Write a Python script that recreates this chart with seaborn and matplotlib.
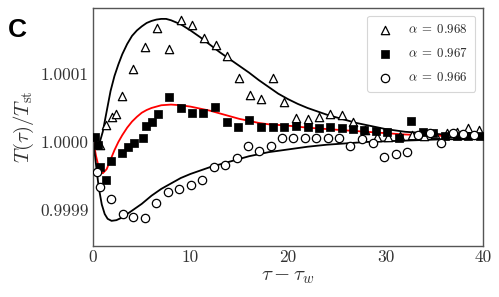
import numpy as np
import pandas as pd
import matplotlib
matplotlib.use("Agg")
import matplotlib.pyplot as plt
import seaborn as sns

# ---- data (deviations from 1 in units of 1e-4) ----
tri_tau = [0.7, 1.3, 1.95, 2.4, 3.0, 4.1, 5.3, 6.6, 7.8, 9.0, 10.2, 11.4, 12.6, 13.7, 15.0,
           16.1, 17.2, 18.5, 19.6, 20.8, 22.1, 23.2, 24.3, 25.5, 26.7, 27.9, 29.1, 30.3,
           31.5, 32.7, 33.9, 35.1, 36.3, 37.3, 38.5, 39.6]
tri_dev = [-0.04, 0.25, 0.37, 0.41, 0.68, 1.07, 1.40, 1.68, 1.37, 1.79, 1.72, 1.53, 1.43, 1.26, 0.94,
           0.69, 0.63, 0.94, 0.59, 0.35, 0.34, 0.37, 0.41, 0.40, 0.29, 0.18, 0.07, 0.07,
           0.09, 0.10, 0.09, 0.11, 0.13, 0.15, 0.21, 0.18]

sq_tau = [0.2, 0.5, 0.7, 1.3, 1.85, 3.0, 3.6, 4.2, 5.1, 5.4, 6.05, 6.7, 7.8, 9.0, 10.2, 11.3,
          12.5, 13.7, 14.9, 16.0, 17.2, 18.5, 19.6, 20.8, 22.1, 23.2, 24.3, 25.5, 26.7, 27.8,
          29.0, 30.2, 31.4, 32.6, 33.8, 34.9, 36.1, 37.3, 38.5, 39.7]
sq_dev = [0.07, -0.04, -0.37, -0.56, -0.28, -0.16, -0.07, -0.01, 0.06, 0.24, 0.29, 0.41, 0.66, 0.50,
          0.43, 0.43, 0.51, 0.29, 0.22, 0.32, 0.22, 0.22, 0.22, 0.24, 0.22, 0.21, 0.22, 0.21,
          0.19, 0.18, 0.16, 0.15, 0.06, 0.31, 0.15, 0.13, 0.09, 0.09, 0.09, 0.09]

circ_tau = [0.4, 0.7, 1.85, 3.1, 4.1, 5.3, 6.5, 7.7, 8.8, 10.0, 11.2, 12.4, 13.5, 14.8, 15.9,
            17.0, 18.3, 19.4, 20.5, 21.7, 22.9, 24.1, 25.2, 26.4, 27.6, 28.7, 29.8, 31.1,
            32.2, 33.3, 34.6, 35.7, 36.9, 37.9, 39.1]
circ_dev = [-0.44, -0.66, -0.84, -1.06, -1.10, -1.12, -0.90, -0.73, -0.69, -0.63, -0.56, -0.37,
            -0.34, -0.24, -0.06, -0.13, -0.06, 0.06, 0.06, 0.06, 0.06, 0.06, 0.06, -0.06, 0.04,
            -0.01, -0.22, -0.18, -0.15, 0.10, 0.13, -0.01, 0.13, 0.12, 0.10]

fit_hi_tau = [0, 0.3, 0.6, 1.0, 1.4, 1.8, 2.2, 2.6, 3.0, 3.5, 4.0, 4.5, 5.0, 5.5, 6.0, 6.5, 7.0,
              7.5, 8.0, 9, 10, 11, 12, 13, 14, 15, 16, 17, 18, 19, 20, 21, 22, 23, 24, 25, 26,
              27, 28, 30, 32, 34, 36, 38, 40]
fit_hi_dev = [0.1, 0.0, -0.05, 0.15, 0.45, 0.75, 0.97, 1.14, 1.29, 1.44, 1.56, 1.64, 1.70, 1.75,
              1.78, 1.80, 1.81, 1.81, 1.79, 1.73, 1.64, 1.54, 1.43, 1.32, 1.22, 1.12, 1.02, 0.91,
              0.81, 0.71, 0.63, 0.56, 0.50, 0.45, 0.40, 0.36, 0.32, 0.28, 0.25, 0.19, 0.15, 0.13,
              0.11, 0.10, 0.09]

fit_mid_tau = [0, 0.3, 0.6, 1.0, 1.4, 1.8, 2.2, 2.6, 3.0, 3.5, 4.0, 4.5, 5.0, 5.5, 6.0, 7, 8, 9,
               10, 11, 12, 13, 14, 15, 16, 17, 18, 19, 20, 22, 24, 26, 28, 30, 32, 34, 36, 38, 40]
fit_mid_dev = [0.05, -0.2, -0.38, -0.46, -0.40, -0.26, -0.12, 0.0, 0.10, 0.21, 0.30, 0.37, 0.43,
               0.47, 0.50, 0.54, 0.55, 0.54, 0.52, 0.49, 0.46, 0.42, 0.38, 0.34, 0.31, 0.28, 0.26,
               0.25, 0.24, 0.21, 0.19, 0.17, 0.15, 0.13, 0.11, 0.10, 0.09, 0.08, 0.07]

fit_lo_tau = [0, 0.2, 0.4, 0.6, 0.9, 1.2, 1.5, 1.9, 2.4, 3.0, 3.5, 4.0, 5, 6, 7, 8, 9, 10, 11, 12,
              13, 14, 15, 16, 17, 18, 19, 20, 22, 24, 26, 28, 30, 32, 34, 36, 38, 40]
fit_lo_dev = [0.05, -0.2, -0.45, -0.68, -0.92, -1.06, -1.13, -1.16, -1.15, -1.11, -1.06, -1.01,
              -0.91, -0.79, -0.69, -0.61, -0.53, -0.47, -0.42, -0.37, -0.33, -0.29, -0.25, -0.21,
              -0.18, -0.15, -0.13, -0.11, -0.07, -0.04, -0.02, 0.0, 0.01, 0.02, 0.03, 0.04, 0.04,
              0.05]

labels = [r"$\alpha\;=\;0.968$", r"$\alpha\;=\;0.967$", r"$\alpha\;=\;0.966$"]
yticks = [0.9999, 1.0000, 1.0001]
ytick_labels = ["0.9999", "1.0000", "1.0001"]
xticks = [0, 10, 20, 30, 40]


def to_T(dev):
    return 1.0 + np.asarray(dev) * 1e-4


sns.set_theme(style="white")
plt.rcParams.update({
    "font.family": "serif",
    "font.serif": ["cmr10", "DejaVu Serif"],
    "mathtext.fontset": "cm",
    "axes.formatter.use_mathtext": True,
    "axes.edgecolor": "#555555",
    "axes.linewidth": 1.0,
})

fig = plt.figure(figsize=(4.99, 2.97), dpi=100)
ax = fig.add_axes([0.1864, 0.1717, 0.7816, 0.8013])

for tau, dev, col in [(fit_hi_tau, fit_hi_dev, "black"),
                      (fit_mid_tau, fit_mid_dev, "red"),
                      (fit_lo_tau, fit_lo_dev, "black")]:
    df = pd.DataFrame({"tau": tau, "T": to_T(dev)})
    sns.lineplot(data=df, x="tau", y="T", ax=ax, color=col, lw=1.3, sort=False,
                 estimator=None, legend=False)

d_tri = pd.DataFrame({"tau": tri_tau, "T": to_T(tri_dev)})
d_sq = pd.DataFrame({"tau": sq_tau, "T": to_T(sq_dev)})
d_ci = pd.DataFrame({"tau": circ_tau, "T": to_T(circ_dev)})

sns.scatterplot(data=d_tri, x="tau", y="T", ax=ax, marker="^", s=36, facecolor="white",
                edgecolor="black", linewidth=0.9, label=labels[0], zorder=3)
sns.scatterplot(data=d_sq, x="tau", y="T", ax=ax, marker="s", s=34, color="black",
                edgecolor="black", linewidth=0.5, label=labels[1], zorder=3)
sns.scatterplot(data=d_ci, x="tau", y="T", ax=ax, marker="o", s=36, facecolor="white",
                edgecolor="black", linewidth=0.9, label=labels[2], zorder=3)

ax.set_xlim(0, 40)
ax.set_ylim(1 - 1.53e-4, 1 + 1.97e-4)
ax.set_xticks(xticks)
ax.set_xticklabels([str(v) for v in xticks])
ax.set_yticks(yticks)
ax.set_yticklabels(ytick_labels)
ax.tick_params(direction="in", length=3, width=0.8, labelsize=12.5, colors="#555555",
               labelcolor="#333333", pad=3)
ax.set_xlabel(r"$\tau - \tau_w$", fontsize=15, labelpad=2, color="#333333")
ax.set_ylabel(r"$T(\tau)/T_{\rm st}$", fontsize=15, labelpad=3, color="#333333")

leg = ax.legend(loc="upper right", fontsize=9.2, frameon=True, fancybox=True,
                borderpad=0.6, handletextpad=1.0, labelspacing=0.85, borderaxespad=0.6,
                handlelength=1.6)
leg.get_frame().set_edgecolor("#cccccc")
leg.get_frame().set_linewidth(0.8)

fig.text(0.016, 0.875, "C", fontsize=19, fontweight="bold", family="Liberation Sans",
         color="black")

fig.savefig("out.png", dpi=100)
